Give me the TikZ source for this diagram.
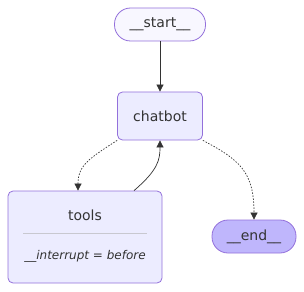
\documentclass[tikz,border=0pt]{standalone}
\usepackage{fontspec}
\setmainfont{DejaVu Sans}
\usepackage{xcolor}
\usetikzlibrary{arrows.meta,positioning,calc}
\definecolor{nodefill}{HTML}{ECECFF}
\definecolor{nodeline}{HTML}{9370DB}
\definecolor{endfill}{HTML}{BFB6FC}
\definecolor{startfill}{HTML}{F8F7FF}
\definecolor{edgecol}{HTML}{333333}
\definecolor{sepline}{HTML}{C8C8D0}
\begin{document}
\begin{tikzpicture}[x=1pt,y=-1pt,
  box/.style={draw=nodeline,fill=nodefill,line width=.8pt,rounded corners=5pt,text=edgecol,font=\fontsize{14}{16}\selectfont},
  pill/.style={draw=nodeline,line width=.8pt,rounded corners=16pt,minimum height=33pt,text=edgecol,font=\fontsize{14}{16}\selectfont},
  edge/.style={draw=edgecol,line width=.7pt,-{Triangle[length=7pt,width=7pt]}},
  cond/.style={edge,dash pattern=on 1.5pt off 1.5pt}]
\useasboundingbox (0,0) rectangle (304,291);
\node[pill,fill=startfill,minimum width=91pt] (start) at (160,24.5) {\_\_start\_\_};
\node[box,minimum width=85pt,minimum height=48pt] (chatbot) at (160,116) {chatbot};
\node[box,minimum width=154pt,minimum height=92pt] (tools) at (85,237) {};
\node[text=edgecol,font=\fontsize{14}{16}\selectfont] (toolstitle) at (85,215) {tools};
\node[text=edgecol,font=\itshape\fontsize{12}{14}\selectfont] (toolsnote) at (85,256) {\_\_interrupt = before};
\coordinate (sepL) at (23,233);
\coordinate (sepR) at (147,233);
\draw[sepline,line width=.7pt] (sepL) -- (sepR);
\node[pill,fill=endfill,minimum width=84pt] (end) at (254,236.5) {\_\_end\_\_};
\draw[edge] (start) -- (chatbot);
\draw[cond] (chatbot.south west) .. controls (90,158) and (78,165) .. (tools.north -| 78,0);
\draw[edge] (tools.north -| 134,0) .. controls (158,170) and (160,160) .. (chatbot.south);
\draw[cond] (chatbot.south east) .. controls (240,160) and (254,172) .. (end.north);
\end{tikzpicture}
\end{document}
